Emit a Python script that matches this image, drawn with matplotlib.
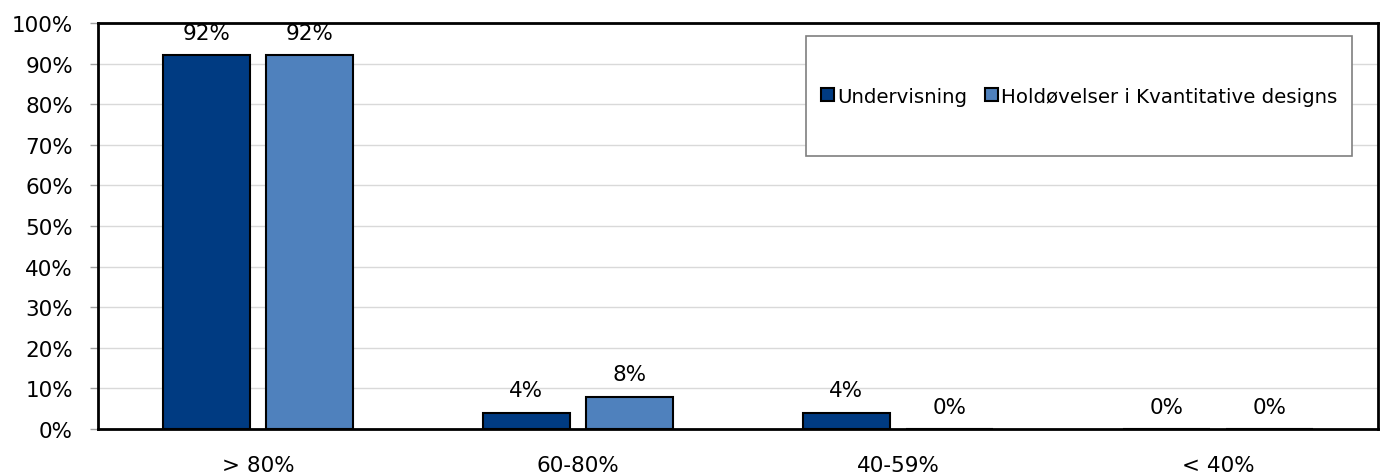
import matplotlib
matplotlib.use('Agg')
import matplotlib.pyplot as plt
import numpy as np
from matplotlib.patches import Rectangle

# Data
kategorier = ['> 80%', '60-80%', '40-59%', '< 40%']
undervisning = [92, 4, 4, 0]
holdoevelser = [92, 8, 0, 0]
serier = ['Undervisning', 'Holdøvelser i Kvantitative designs']

plt.rcParams['font.family'] = ['DejaVu Sans']

x = np.arange(len(kategorier))
width = 0.272
offset = 0.161

fig = plt.figure(figsize=(13.88, 4.77), dpi=100)
ax = fig.add_axes([0.0706, 0.0985, 0.9222, 0.8512])

bars1 = ax.bar(x - offset, undervisning, width, label=serier[0],
               color='#003B82', edgecolor='black', linewidth=1.5, zorder=3)
bars2 = ax.bar(x + offset, holdoevelser, width, label=serier[1],
               color='#4F81BD', edgecolor='black', linewidth=1.5, zorder=3)

ax.set_xlim(-0.5, len(kategorier) - 0.5)
ax.set_ylim(0, 100)
ax.set_yticks(np.arange(0, 101, 10))
ax.set_yticklabels([f'{v}%' for v in range(0, 101, 10)], fontsize=15.5)
ax.set_xticks(x)
ax.set_xticklabels(kategorier, fontsize=15.5)
ax.tick_params(axis='x', length=0, pad=19)
ax.tick_params(axis='y', length=6, width=1, color='#A0A0A0', pad=12)
ax.grid(True, axis='y', color='#D9D9D9', linewidth=1, zorder=0)
for s in ax.spines.values():
    s.set_linewidth(2)
    s.set_color('black')
    s.set_zorder(4)

# Værdier over søjlerne
def add_value_labels(bars):
    for bar in bars:
        h = bar.get_height()
        ax.annotate(f'{h:.0f}%', (bar.get_x() + bar.get_width() / 2, h),
                    xytext=(0, 9), textcoords='offset points',
                    ha='center', va='bottom', fontsize=15.5, zorder=5)

add_value_labels(bars1)
add_value_labels(bars2)

# Legende med egen ramme
ax.add_patch(Rectangle((0.553, 0.672), 0.427, 0.296, transform=ax.transAxes,
                       facecolor='white', edgecolor='#7F7F7F', linewidth=1.2, zorder=6))
leg = ax.legend(loc='center', bbox_to_anchor=(0.7665, 0.82), ncol=2, frameon=False,
                fontsize=14.2, handlelength=0.65, handleheight=0.65, handletextpad=0.15,
                columnspacing=0.9, borderaxespad=0)
leg.set_zorder(7)

plt.savefig('out.png', dpi=100)
